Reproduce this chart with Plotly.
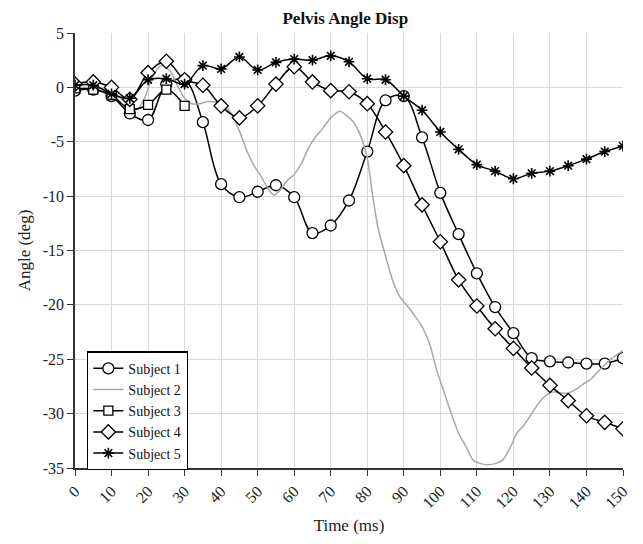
import plotly.graph_objects as go

t = list(range(0, 155, 5))
s1 = [-0.3, -0.2, -0.8, -2.4, -3.0, 0.3, 0.7, -3.2, -8.9, -10.1, -9.6, -9.0, -10.1, -13.4, -12.7,
      -10.4, -5.9, -1.2, -0.8, -4.6, -9.7, -13.5, -17.1, -20.2, -22.6, -24.9, -25.2, -25.3, -25.4, -25.4, -24.9]
t3 = [0, 5, 10, 15, 20, 25, 30]
s3 = [-0.1, -0.2, -0.7, -2.0, -1.6, -0.2, -1.7]
s4 = [0.3, 0.5, 0.0, -1.1, 1.35, 2.4, 0.7, 0.2, -1.7, -2.8, -1.7, 0.3, 1.9, 0.5, -0.3,
      -0.4, -1.5, -4.1, -7.2, -10.8, -14.2, -17.7, -20.1, -22.2, -24.0, -25.8, -27.4, -28.8, -30.2, -30.8, -31.4]
s5 = [0.2, 0.2, -0.6, -1.0, 0.7, 0.8, 0.3, 2.0, 1.7, 2.8, 1.6, 2.3, 2.6, 2.5, 2.9,
      2.35, 0.8, 0.7, -0.8, -2.1, -4.1, -5.7, -7.1, -7.7, -8.4, -7.9, -7.7, -7.2, -6.6, -5.9, -5.4]
t2 = [0, 2.5, 5, 7.5, 10, 12.5, 15, 17, 19, 21, 23.5, 26, 28, 30, 32, 34, 36.5, 39, 41, 43, 45, 47,
      49, 51, 53, 54.5, 56, 58, 60, 62, 64, 66, 68, 70, 72.5, 74, 76, 78, 80, 81.5, 83, 85, 87,
      89, 91, 93, 95, 97, 99, 101, 103, 105, 107, 109, 111, 113, 115, 117, 119, 121, 123, 125,
      127, 129, 131, 133, 135, 137, 139, 141, 143, 145, 147, 150]
s2 = [0.0, 0.0, 0.0, -0.1, -0.5, -1.0, -1.8, -2.0, -1.0, 0.8, 2.0, 1.5, 0.2, -1.0, -1.5, -1.5,
      -1.3, -1.4, -1.7, -2.5, -4.0, -5.8, -7.2, -8.2, -9.4, -9.9, -9.5, -8.6, -8.0, -7.0, -5.5,
      -4.5, -3.7, -2.8, -2.2, -2.5, -3.1, -4.3, -6.5, -10.0, -13.0, -15.5, -17.8, -19.3, -20.1,
      -21.0, -22.0, -23.5, -26.0, -28.0, -30.0, -31.8, -33.0, -34.3, -34.6, -34.7, -34.6, -34.3,
      -33.2, -31.8, -31.0, -30.0, -29.0, -28.3, -28.0, -28.1, -28.1, -27.8, -27.3, -26.9, -26.2,
      -25.5, -24.9, -24.2]
x_ticks = list(range(0, 160, 10))
y_ticks = list(range(-35, 10, 5))

FONT = "Liberation Serif, Times New Roman, serif"

def mk(symbol, size):
    return dict(symbol=symbol, size=size, color="white", line=dict(color="black", width=1.3))

fig = go.Figure()
fig.add_trace(go.Scatter(x=t, y=s1, name="Subject 1", mode="lines+markers",
                         line=dict(color="black", width=1.5, shape="spline", smoothing=1),
                         marker=mk("circle", 11)))
fig.add_trace(go.Scatter(x=t2, y=s2, name="Subject 2", mode="lines",
                         line=dict(color="#a8a8a8", width=1.5, shape="spline", smoothing=0.8)))
fig.add_trace(go.Scatter(x=t3, y=s3, name="Subject 3", mode="lines+markers",
                         line=dict(color="black", width=1.5, shape="spline", smoothing=1),
                         marker=mk("square", 9)))
fig.add_trace(go.Scatter(x=t, y=s4, name="Subject 4", mode="lines+markers",
                         line=dict(color="black", width=1.5, shape="spline", smoothing=1),
                         marker=mk("diamond", 11)))
fig.add_trace(go.Scatter(x=t, y=s5, name="Subject 5", mode="lines+markers",
                         line=dict(color="black", width=1.5, shape="spline", smoothing=1),
                         marker=dict(symbol="asterisk-open", size=9, color="black",
                                     line=dict(color="black", width=1.6))))

fig.update_layout(
    width=643, height=544,
    margin=dict(l=75, r=13, t=33, b=74),
    paper_bgcolor="white", plot_bgcolor="white",
    font=dict(family=FONT, size=16, color="#222"),
    title=dict(text="<b>Pelvis Angle Disp</b>", x=0.537, xanchor="center", y=0.967, yanchor="middle",
               font=dict(family=FONT, size=17, color="#111")),
    showlegend=True,
    legend=dict(x=0.022, y=0.268, xanchor="left", yanchor="top", bgcolor="white",
                bordercolor="black", borderwidth=1.3, font=dict(family=FONT, size=14, color="#111"),
                tracegroupgap=0, itemwidth=30),
)
fig.update_xaxes(range=[0, 150], tickvals=x_ticks, ticktext=[str(v) for v in x_ticks],
                 tickangle=-45, showgrid=True, gridcolor="#d9d9d9", gridwidth=1,
                 showline=True, linecolor="#333", linewidth=1.5, ticks="outside", ticklen=6,
                 tickcolor="#333", zeroline=False,
                 title=dict(text="Time (ms)", font=dict(family=FONT, size=17), standoff=8))
fig.update_yaxes(range=[-35, 5], tickvals=y_ticks, ticktext=[str(v) for v in y_ticks],
                 showgrid=True, gridcolor="#d9d9d9", gridwidth=1,
                 showline=True, linecolor="#333", linewidth=1.5, ticks="outside", ticklen=6,
                 tickcolor="#333", zeroline=False,
                 title=dict(text="Angle (deg)", font=dict(family=FONT, size=17), standoff=8))

fig.write_html("out.html")
